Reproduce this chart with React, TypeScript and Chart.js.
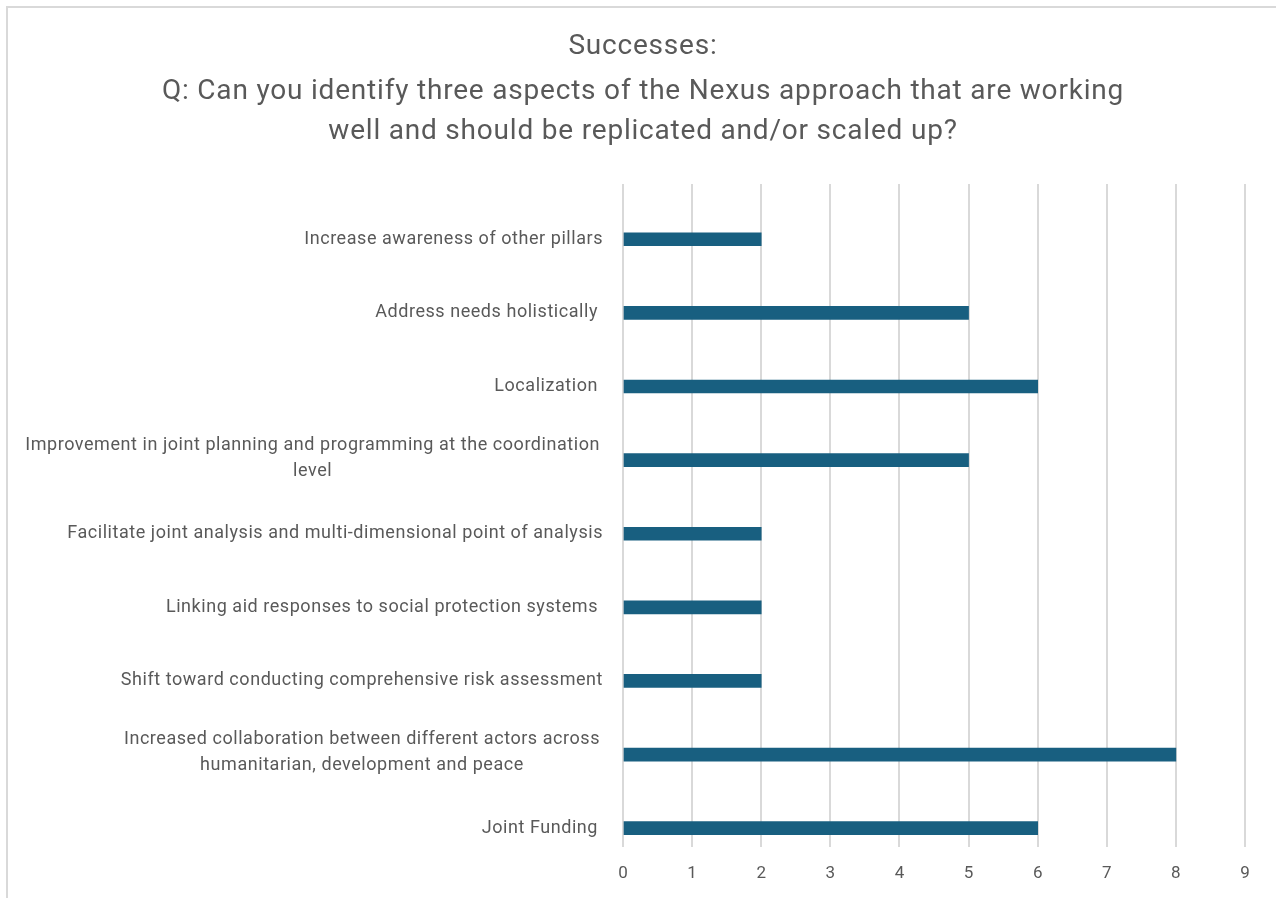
import React, { useEffect, useRef } from "react";
import { Chart, registerables } from "chart.js";

Chart.register(...registerables);

const titleLines = [
  "Successes:",
  "Q: Can you identify three aspects of the Nexus approach that are working",
  "well and should be replicated and/or scaled up?",
];

const categories: string[][] = [
  ["Increase awareness of other pillars"],
  ["Address needs holistically "],
  ["Localization "],
  ["Improvement in joint planning and programming at the coordination", "level"],
  ["Facilitate joint analysis and multi-dimensional point of analysis"],
  ["Linking aid responses to social protection systems "],
  ["Shift toward conducting comprehensive risk assessment"],
  ["Increased collaboration between different actors across", "humanitarian, development and peace"],
  ["Joint Funding "],
];

const counts = [2, 5, 6, 5, 2, 2, 2, 8, 6];

const xTicks = [0, 1, 2, 3, 4, 5, 6, 7, 8, 9];

const TEXT = "#595959";
const BAR = "#185F80";
const GRID = "#d9d9d9";
const FONT = "Roboto, 'Liberation Sans', sans-serif";

const titlePlugin = {
  id: "customTitle",
  afterDraw(chart: any) {
    const ctx = chart.ctx;
    ctx.save();
    ctx.font = `28px ${FONT}`;
    (ctx as any).letterSpacing = "0.8px";
    ctx.fillStyle = TEXT;
    ctx.textAlign = "center";
    ctx.textBaseline = "middle";
    const cx = chart.width / 2 + 1;
    const ys = [39, 84, 124];
    titleLines.forEach((l, i) => ctx.fillText(l, cx, ys[i]));
    ctx.restore();
  },
};

const categoryLabelsPlugin = {
  id: "categoryLabels",
  afterDraw(chart: any) {
    const ctx = chart.ctx;
    const yScale = chart.scales.y;
    const right = chart.chartArea.left - 20;
    ctx.save();
    ctx.font = `18px ${FONT}`;
    (ctx as any).letterSpacing = "0.55px";
    ctx.fillStyle = TEXT;
    ctx.textBaseline = "middle";
    const lh = 26;
    categories.forEach((lines, i) => {
      const yc = yScale.getPixelForValue(i) - (lines.length > 1 ? 2 : 0);
      const y0 = yc - ((lines.length - 1) * lh) / 2;
      if (lines.length === 1) {
        ctx.textAlign = "right";
        ctx.fillText(lines[0], right, y0);
      } else {
        const maxW = Math.max(...lines.map((l) => ctx.measureText(l).width));
        const cx = right - 3 - maxW / 2;
        ctx.textAlign = "center";
        lines.forEach((l, j) => ctx.fillText(l, cx, y0 + j * lh));
      }
    });
    ctx.restore();
  },
};

export default function App() {
  const ref = useRef<HTMLCanvasElement>(null);
  useEffect(() => {
    if (!ref.current) return;
    const chart = new Chart(ref.current, {
      type: "bar",
      data: {
        datasets: [
          {
            data: counts.map((v, i) => ({ x: v, y: i })),
            backgroundColor: BAR,
            borderWidth: 0,
            barThickness: 13,
          },
        ],
      },
      options: {
        indexAxis: "y",
        responsive: false,
        animation: false,
        layout: { padding: { left: 615, right: 31, top: 176, bottom: 2 } },
        plugins: {
          legend: { display: false },
          tooltip: { enabled: false },
          title: { display: false },
        },
        scales: {
          x: {
            type: "linear",
            min: xTicks[0],
            max: xTicks[xTicks.length - 1],
            afterBuildTicks: (s: any) => {
              s.ticks = xTicks.map((v) => ({ value: v }));
            },
            grid: { color: GRID, lineWidth: 2, drawTicks: false },
            border: { display: false },
            ticks: {
              color: TEXT,
              padding: 17,
              font: { family: FONT, size: 17, lineHeight: 1.2 },
            },
          },
          y: {
            type: "linear",
            display: false,
            reverse: true,
            offset: false,
            min: -0.75,
            max: 8.25,
          },
        },
      },
      plugins: [titlePlugin, categoryLabelsPlugin],
    } as any);
    return () => chart.destroy();
  }, []);
  return (
    <div
      style={{
        position: "absolute",
        left: 6,
        top: 6,
        width: 1270,
        height: 892,
        overflow: "hidden",
        borderTop: "2px solid #d9d9d9",
        borderLeft: "2px solid #d9d9d9",
        boxSizing: "border-box",
        background: "#fff",
      }}
    >
      <canvas ref={ref} width={1268} height={895} style={{ display: "block" }} />
    </div>
  );
}
